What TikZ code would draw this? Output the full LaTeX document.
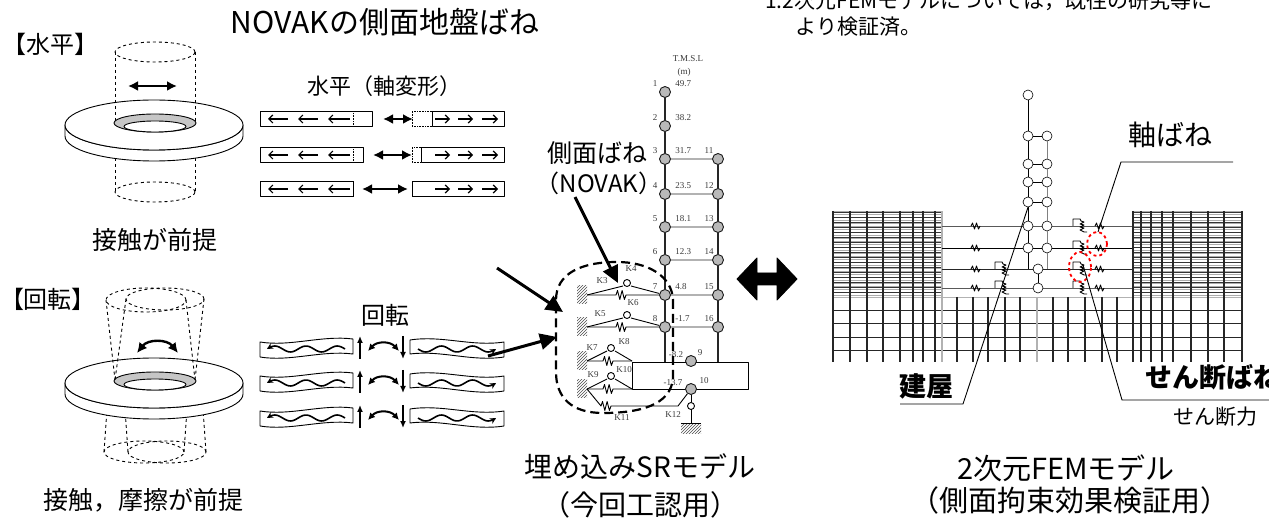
\documentclass[tikz,border=0pt]{standalone}
\usepackage{fontspec}
\setmainfont{Noto Sans CJK JP}
\newfontfamily\minchofont{Liberation Serif}
\usetikzlibrary{positioning}
\usetikzlibrary{arrows.meta}
\usetikzlibrary{patterns}

\tikzset{
  jp/.style={inner sep=0pt, font=\fontsize{#1}{#1}\selectfont},
  jpb/.style={inner sep=0pt, font=\bfseries\fontsize{#1}{#1}\selectfont},
  sr/.style={inner sep=0pt, text=gray!45!black, font=\minchofont\fontsize{9}{9}\selectfont},
  mass/.style={circle, draw=gray!20!black, fill=gray!55, minimum size=11pt, inner sep=0pt},
  bnode/.style={circle, draw, fill=white, minimum size=10pt, inner sep=0pt, line width=0.6pt},
  twoway/.style={{Latex[length=10pt,width=10pt]}-{Latex[length=10pt,width=10pt]}, line width=2.4pt},
  pointer/.style={-{Triangle[length=17pt,width=16pt]}, line width=3pt},
  wall/.style={pattern=north east lines, pattern color=gray!60!black},
  ring/.style={dash pattern=on 9pt off 5pt, line width=2.2pt},
  beam/.style={line width=0.7pt, double=gray!60, double distance=1.2pt},
}

\begin{document}
\begin{tikzpicture}[x=1pt, y=-1pt, line width=0.9pt, line join=round]
\useasboundingbox (0,0) rectangle (1269,526);

%% springs : horizontal zigzag of 9 (small) or 10 (big) units
\def\zig{-- ++(1.5,-3) -- ++(2,6) -- ++(2,-6) -- ++(2,6) -- ++(1.5,-3)}
\def\zigbig{-- ++(1.5,-4.5) -- ++(2.3,9) -- ++(2.3,-9) -- ++(2.3,9) -- ++(1.6,-4.5)}
%% shear spring : 1 param : foot point on the level line
\newcommand{\shear}[1]{
\draw #1 -- ++(0,-7) -- ++(7,0) -- ++(1,2) -- ++(3,1) -- ++(-4,2) -- ++(4,1)
 -- ++(-4,2) -- ++(4,1) -- ++(-4,2) -- ++(4,2) -- ++(3,0);
}
%% plate with hole : 1 param : height of the top face
\newcommand{\plate}[1]{
\filldraw[fill=white] (65,#1) -- ++(0,11) arc[start angle=180, end angle=360, x radius=89pt, y radius=25pt]
  -- ++(0,-11) arc[start angle=0, end angle=-180, x radius=89pt, y radius=25pt] -- cycle;
\filldraw[fill=white] (154,#1) ellipse[x radius=89pt, y radius=25pt];
\filldraw[fill=gray!45] (155,#1-2) ellipse[x radius=41pt, y radius=9pt];
\filldraw[fill=white] (155,#1+1.5) ellipse[x radius=31pt, y radius=5.5pt];
}

%% titles
\node[jp=30] (title) at (385,22) {NOVAKの側面地盤ばね};
\node[jp=21, anchor=west] (note1) at (755,1) {*1:2次元FEMモデルについては，既往の研究等に};
\node[jp=21, anchor=west] (note2) at (795,27) {より検証済。};

%% horizontal case
\node[jp=24] (horz) at (50,44) {【水平】};
\draw[dashed] (115,140) -- (115,192) (195,140) -- (195,192);
\draw[dashed] (155,192) ellipse[x radius=40pt, y radius=10pt];
\plate{125}
\draw[dashed] (155,52) ellipse[x radius=40pt, y radius=10pt];
\draw[dashed] (115,52) -- (115,123) (195,52) -- (195,123);
\draw[twoway] (128,86) -- (177,86);
\node[jp=25] (contact) at (155,240) {接触が前提};

\node[jp=22] (axial) at (384,86) {水平（軸変形）};
\foreach \y/\l/\r/\a/\b in {119/372/432/383/413, 155/363/421/373/412, 189/353/412/362/408}{
  \draw (260,\y-7.5) rectangle (\l,\y+7.5);
  \draw (\r,\y-7.5) rectangle (504,\y+7.5);
  \draw[densely dotted, line width=0.6pt] (353,\y-7.5) -- (353,\y+7.5);
  \draw[densely dotted, line width=0.6pt] (\r,\y-7.5) -- (412,\y-7.5) -- (412,\y+7.5) -- (\r,\y+7.5);
  \draw[twoway] (\a,\y) -- (\b,\y);
  \foreach \s/\t in {288/268, 318/298, 350/328, 435/450, 458/473, 482/498}
    \draw[-{Straight Barb[length=4pt,width=8pt]}, line width=1.2pt] (\s,\y) -- (\t,\y);
}

%% rotation case
\node[jp=24] (rot) at (48,299) {【回転】};
\draw[dashed] (108,395) -- (104,452) (188,395) -- (184,452) (124,395) -- (128,452) (202,395) -- (206,452);
\draw[dashed] (144,452) ellipse[x radius=40pt, y radius=11pt];
\draw[dashed] (167,452) ellipse[x radius=39pt, y radius=11pt];
\plate{383}
\draw[dashed] (146,300) ellipse[x radius=40pt, y radius=12pt];
\draw[dashed] (165,299) ellipse[x radius=39pt, y radius=11pt];
\draw[dashed] (106,300) -- (115,380) (186,300) -- (195,380) (126,299) -- (115,380) (204,299) -- (195,380);
\draw[twoway] (137,353) .. controls (148,339) and (167,339) .. (178,353);
\node[jp=25] (friction) at (143,500) {接触，摩擦が前提};

\node[jp=24] (turn) at (385,315) {回転};
\foreach \yy in {348,382,417}{
  \draw (260,\yy-6) .. controls (290,\yy-1) and (322,\yy-13) .. (353,\yy-9) -- (353,\yy+6)
    .. controls (322,\yy+2) and (290,\yy+14) .. (260,\yy+9) -- cycle;
  \draw (410,\yy-8) .. controls (442,\yy-13) and (472,\yy-1) .. (504,\yy-6) -- (504,\yy+9)
    .. controls (472,\yy+14) and (442,\yy+2) .. (410,\yy+6) -- cycle;
  \draw[line width=1.6pt, -{Stealth[length=6pt,width=6pt]}] plot[domain=0:1, samples=40, smooth]
    ({345-78*\x},{\yy+1-3*sin(900*\x)});
  \draw[line width=1.6pt, -{Stealth[length=6pt,width=6pt]}] plot[domain=0:1, samples=40, smooth]
    ({418+78*\x},{\yy+1+3*sin(900*\x)});
  \draw[line width=1.5pt, -{Latex[length=7pt,width=6pt]}] (360,\yy+11) -- (360,\yy-12);
  \draw[line width=1.5pt, -{Latex[length=7pt,width=6pt]}] (403,\yy-12) -- (403,\yy+11);
  \draw[line width=2pt, {Latex[length=7pt,width=7pt]}-{Latex[length=7pt,width=7pt]}]
    (368,\yy+3) .. controls (377,\yy-7) and (390,\yy-7) .. (399,\yy+3);
}

%% embedded SR model
\node[sr] (tmsl) at (688,59) {T.M.S.L};
\node[sr] (unit) at (684,72) {(m)};
\foreach \i/\y/\h in {1/92/49.7, 2/126/38.2, 3/159/31.7, 4/194/23.5, 5/227/18.1, 6/260/12.3, 7/295/4.8, 8/327/-1.7}{
  \node[mass] (n\i) at (665,\y) {};
  \node[sr] at (655,\y-8) {\i};
  \node[sr, anchor=west] at (675,\y-8) {\h};
}
\foreach \i/\y in {11/159, 12/194, 13/227, 14/260, 15/295, 16/327}{
  \node[mass] (n\i) at (718,\y) {};
  \node[sr] at (709,\y-8) {\i};
}
\draw (632,362) rectangle (748,389);
\node[mass] (n9) at (691,361) {};
\node[mass] (n10) at (691,389) {};
\node[sr] at (700,353) {9};
\node[sr] at (704,381) {10};
\node[sr] at (676,355) {-8.2};
\node[sr] at (673,383) {-13.7};
\foreach \i/\j in {1/2, 2/3, 3/4, 4/5, 5/6, 6/7, 7/8, 11/12, 12/13, 13/14, 14/15, 15/16}
  \draw[gray!30!black, line width=1.1pt] (n\i) -- (n\j);
\draw[gray!30!black, line width=1.1pt] (n8) -- (665,362) (n16) -- (718,362);
\foreach \i/\j in {3/11, 4/12, 5/13, 6/14, 7/15, 8/16}
  \draw[beam] (n\i) -- (n\j);

% soil springs
\foreach \y in {295,327,361,389}
  \fill[wall] (577,\y-9) rectangle (587,\y+9);
\coordinate (s7) at (587,295);
\coordinate (s8) at (587,327);
\coordinate (s9) at (587,361);
\coordinate (s10) at (587,389);
\draw (s7) -- (616,295) \zigbig -- (n7);
\draw (s7) -- (623,286) (631,286) -- (n7);
\draw (627,283) circle[radius=3.5pt];
\draw (s8) -- (616,327) \zigbig -- (n8);
\draw (s8) -- (623,318) (631,318) -- (n8);
\draw (627,315) circle[radius=3.5pt];
\draw (s9) -- (603,361) \zigbig -- (632,361);
\draw (s9) -- (607,351) (615,351) -- (632,361);
\draw (611,348) circle[radius=3.5pt];
\draw (s10) -- (603,389) \zigbig -- (632,389);
\draw (s10) -- (607,379) (615,379) -- (632,389);
\draw (611,376) circle[radius=3.5pt];
\draw (s10) -- (601,406) \zigbig -- (678,406) -- (n10);
\draw (n10) -- (691,402.5) (691,409.5) -- (691,423);
\draw (691,406) circle[radius=3.5pt];
\fill[wall] (681,423) rectangle (701,433);
\draw (681,423) -- (701,423);
\foreach \k/\x/\y in {K3/602/281, K4/631/269, K5/600/314, K6/633/303, K7/592/348,
                      K8/624/342, K9/593/375, K10/624/370, K11/622/418, K12/673/415}
  \node[sr] at (\x,\y) {\k};

\draw[ring] (673,300) -- (673,378) .. controls (671,405) and (640,413) .. (603,413)
  .. controls (572,413) and (556,398) .. (556,372) -- (556,300)
  .. controls (556,273) and (582,262) .. (617,262) .. controls (648,262) and (672,276) .. (673,300) -- cycle;

\node[jp=25] (side) at (597,153) {側面ばね};
\node[jp=24] (novak) at (599,183) {（NOVAK）};
\coordinate (hz) at (497,268);
\coordinate (hzend) at (563,312);
\coordinate (rt) at (488,356);
\coordinate (rtend) at (557,337);
\coordinate (nv) at (575,197);
\coordinate (nvend) at (618,283);
\draw[pointer] (hz) -- (hzend);
\draw[pointer] (rt) -- (rtend);
\draw[pointer] (nv) -- (nvend);

\node[jp=28] (srname) at (640,467) {埋め込みSRモデル};
\node[jp=28] (srfor) at (640,505) {（今回工認用）};

%% big two-way arrow
\filldraw (737,279) -- (757,258) -- (757,273) -- (777,273) -- (777,258) -- (797,279)
  -- (777,300) -- (777,285) -- (757,285) -- (757,300) -- cycle;

%% 2D FEM model
% dense soil layers
\foreach \y in {211,214,...,295}
  \draw[gray!65, line width=0.7pt] (833,\y) -- (942,\y) (1133,\y) -- (1243,\y);
\foreach \y in {212.5,217.5,...,296}
  \draw[black!80, line width=0.7pt] (833,\y) -- (942,\y) (1133,\y) -- (1243,\y);
% coarse layers
\draw[gray!60] (833,297) -- (1243,297);
\foreach \y in {310,323,337,350}
  \draw[black!85] (833,\y) -- (1243,\y);
\foreach \x in {833,850,867,883,900,913,923,935,1141,1151,1162,1173,1191,1208,1224,1242}
  \draw[black!85, line width=1.1pt] (\x,211) -- (\x,362);
\draw[gray!60, line width=1.1pt] (942,211) -- (942,362);
\draw[black!85, line width=1.6pt] (1133,211) -- (1133,297);
\draw[black!85, line width=1.1pt] (1133,297) -- (1133,362);
\foreach \x in {957,973,988,1005,1020,1053,1068,1085,1102,1117}
  \draw[black!85, line width=1.1pt] (\x,297) -- (\x,362);
\draw[gray!60, line width=1.1pt] (1037,297) -- (1037,362);

% level lines with springs
\foreach \y/\c in {226/gray!70!black, 248/black, 269/black!85, 288/gray!70!black}{
  \draw[\c] (942,\y) -- (1132,\y);
  \draw (971,\y) \zig;
  \draw (1095,\y) \zig;
  \shear{(1073,\y)}
}
\shear{(995,269)}
\shear{(995,288)}

% building
\foreach \i/\y in {1/95, 2/136, 3/164, 4/182, 5/202, 6/226, 7/248}
  \node[bnode] (b\i) at (1028,\y) {};
\foreach \i/\y in {2/136, 3/164, 4/182, 5/202, 6/226, 7/248}
  \node[bnode] (c\i) at (1047,\y) {};
\node[bnode] (d1) at (1038,269) {};
\node[bnode] (d2) at (1038,288) {};
\foreach \i/\j in {1/2, 2/3, 3/4, 4/5, 5/6, 6/7}
  \draw[line width=0.6pt] (b\i) -- (b\j);
\foreach \i/\j in {2/3, 3/4, 4/5, 5/6, 6/7}
  \draw[gray, line width=0.6pt] (c\i) -- (c\j);
\foreach \i in {2,...,5}
  \draw[line width=0.6pt] (b\i) -- (c\i);
\draw[line width=0.6pt] (b7) -- (1028,269) (d1) -- (d2);
\draw[gray, line width=0.6pt] (c7) -- (1047,269);

\draw[red, dashed, line width=1.8pt] (1097,244) ellipse[x radius=10pt, y radius=12pt];
\draw[red, dashed, line width=1.8pt] (1080,267) ellipse[x radius=11pt, y radius=15pt];

% leaders
\node[jp=28] (axspring) at (1170,135) {軸ばね};
\coordinate (ax1) at (1233,162);
\coordinate (ax2) at (1121,162);
\coordinate (ax3) at (1098,232);
\draw (ax1) -- (ax2) -- (ax3);
\node[jpb=27] (bldg) at (926,386) {建屋};
\coordinate (bd1) at (900,404);
\coordinate (bd2) at (963,404);
\draw (bd1) -- (bd2) -- (b5.south);
\node[jpb=27, anchor=west] (shspring) at (1145,377) {せん断ばね};
\coordinate (sh1) at (1269,400);
\coordinate (sh2) at (1122,400);
\coordinate (sh3) at (1083,265);
\draw (sh1) -- (sh2) -- (sh3);
\node[jp=21] (shforce) at (1215,417) {せん断力};

\node[jp=29] (femname) at (1066,468) {2次元FEMモデル};
\node[jp=29] (femfor) at (1070,500) {（側面拘束効果検証用）};
\end{tikzpicture}
\end{document}
